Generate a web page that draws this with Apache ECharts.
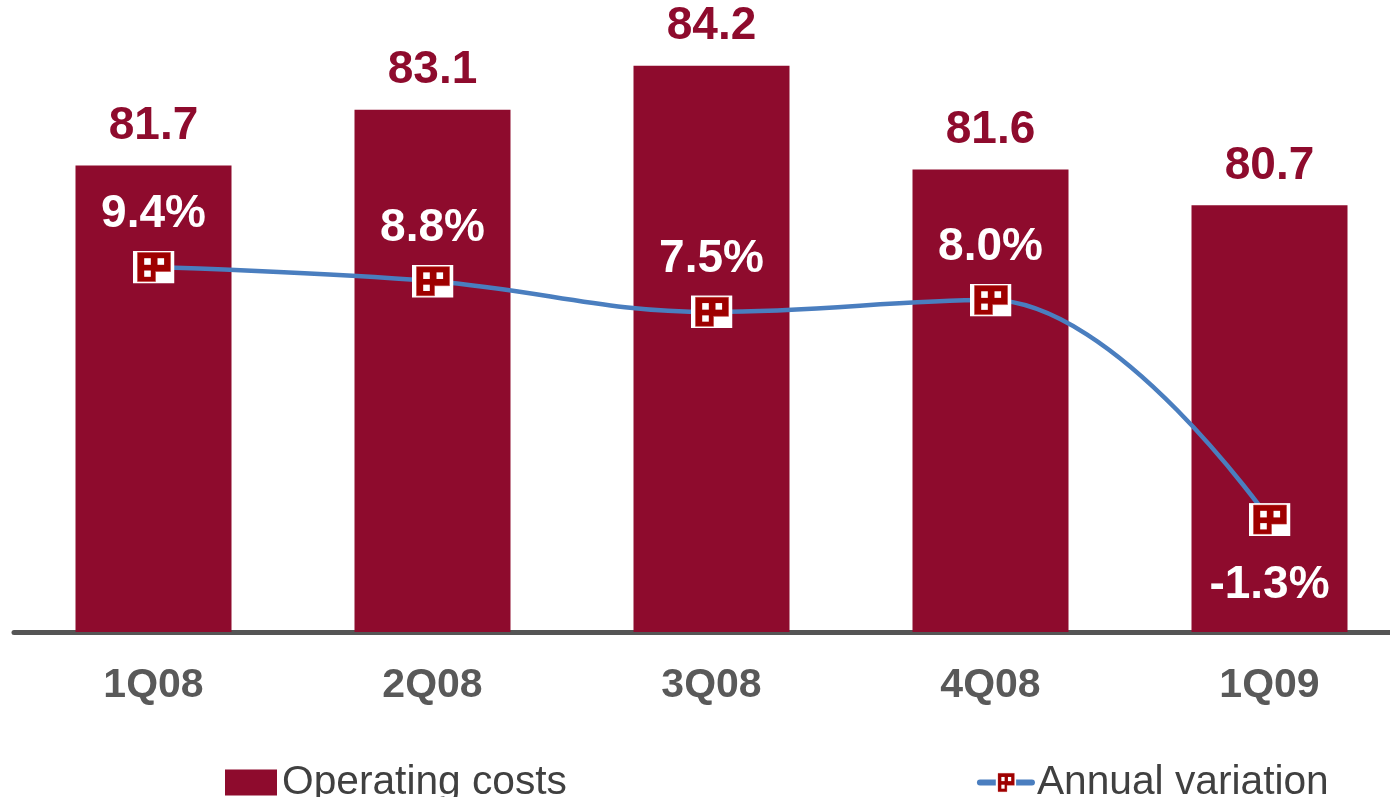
<!DOCTYPE html>
<html>
<head>
<meta charset="utf-8">
<script src="https://cdn.jsdelivr.net/npm/echarts@6/dist/echarts.min.js"></script>
<style>
html,body{margin:0;padding:0;background:#fff;}
#chart{width:1390px;height:797px;}
</style>
</head>
<body>
<div id="chart"></div>
<script>
const categories = ['1Q08', '2Q08', '3Q08', '4Q08', '1Q09'];
const operatingCosts = [81.7, 83.1, 84.2, 81.6, 80.7];
const annualVariation = [9.4, 8.8, 7.5, 8.0, -1.3];
const seriesNames = ['Operating costs', 'Annual variation'];

const FONT = '"Liberation Sans", Arial, sans-serif';
const BAR_COLOR = '#8E0B2D';
const LINE_COLOR = '#4A7EBF';

const markerSvg =
  '<svg xmlns="http://www.w3.org/2000/svg" width="42" height="33" viewBox="0 0 42 33">' +
  '<rect x="0" y="0" width="42" height="33" fill="#ffffff"/>' +
  '<path d="M5 2 H38 V21 H23 V31 H5 Z" fill="#9E0000" stroke="#C24040" stroke-width="0.6"/>' +
  '<rect x="11.7" y="7.7" width="6.6" height="6.6" fill="#ffffff"/>' +
  '<rect x="25" y="7.7" width="6.6" height="6.6" fill="#ffffff"/>' +
  '<rect x="11.7" y="20" width="6.6" height="6.3" fill="#ffffff"/>' +
  '</svg>';
const markerSymbol = 'image://data:image/svg+xml;charset=utf-8,' + encodeURIComponent(markerSvg);

const chart = echarts.init(document.getElementById('chart'));

const lineData = annualVariation.map((v, i) => {
  const item = { value: v };
  if (v < 0) item.label = { position: 'bottom', distance: 26 };
  return item;
});

chart.setOption({
  animation: false,
  backgroundColor: '#ffffff',
  grid: { left: 14, width: 1395, top: 0, height: 632, containLabel: false, outerBoundsMode: 'none' },
  legend: {
    left: 220,
    top: 757,
    itemGap: 410,
    itemWidth: 52,
    itemHeight: 26,
    textStyle: { fontFamily: FONT, fontSize: 40.7, color: '#404040' },
    data: [
      { name: seriesNames[0], icon: 'rect' },
      { name: seriesNames[1], lineStyle: { width: 6, cap: 'round' } }
    ]
  },
  xAxis: {
    type: 'category',
    data: categories,
    axisLine: { show: true, onZero: false, lineStyle: { color: '#555555', width: 5, cap: 'round' } },
    axisTick: { show: false },
    axisLabel: {
      margin: 33,
      fontFamily: FONT,
      fontSize: 41,
      fontWeight: 'bold',
      color: '#595959'
    }
  },
  yAxis: [
    { type: 'value', min: 70, max: 85.85, show: false, splitLine: { show: false } },
    { type: 'value', min: -6.06, max: 20.71, show: false, splitLine: { show: false } }
  ],
  series: [
    {
      name: seriesNames[0],
      type: 'bar',
      yAxisIndex: 0,
      barWidth: 156,
      data: operatingCosts,
      itemStyle: { color: BAR_COLOR },
      label: {
        show: true,
        position: 'top',
        distance: 16,
        fontFamily: FONT,
        fontSize: 46,
        fontWeight: 'bold',
        color: BAR_COLOR,
        formatter: p => p.value.toFixed(1)
      },
      z: 1
    },
    {
      name: seriesNames[1],
      type: 'line',
      yAxisIndex: 1,
      data: lineData,
      smooth: 0.4,
      symbol: markerSymbol,
      symbolSize: [42, 33],
      lineStyle: { color: LINE_COLOR, width: 4.5 },
      itemStyle: { color: LINE_COLOR },
      label: {
        show: true,
        position: 'top',
        distance: 13,
        fontFamily: FONT,
        fontSize: 46,
        fontWeight: 'bold',
        color: '#ffffff',
        formatter: p => p.value.toFixed(1) + '%'
      },
      z: 3
    }
  ]
});
</script>
</body>
</html>
